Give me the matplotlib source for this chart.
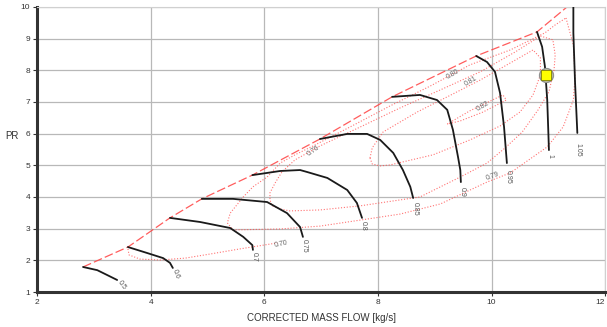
import numpy as np
import matplotlib
matplotlib.use("Agg")
import matplotlib.pyplot as plt

plt.rcParams['font.family'] = ['Liberation Sans Narrow', 'Liberation Sans', 'DejaVu Sans']

# speed lines (corrected speed)
speed_lines = {
    "0.5": ([2.81, 3.06, 3.23, 3.41], [1.79, 1.69, 1.54, 1.38]),
    "0.6": ([3.60, 3.94, 4.22, 4.34, 4.39], [2.42, 2.23, 2.07, 1.92, 1.76]),
    "0.7": ([4.34, 4.87, 5.40, 5.63, 5.79, 5.80], [3.34, 3.21, 3.02, 2.74, 2.48, 2.33]),
    "0.75": ([4.90, 5.45, 6.05, 6.40, 6.63, 6.68], [3.94, 3.94, 3.84, 3.49, 3.05, 2.74]),
    "0.8": ([5.79, 6.28, 6.63, 6.75, 7.11, 7.46, 7.63, 7.72],
            [4.69, 4.82, 4.85, 4.79, 4.60, 4.22, 3.81, 3.34]),
    "0.85": ([6.98, 7.46, 7.81, 8.04, 8.27, 8.44, 8.57, 8.62],
             [5.83, 5.99, 5.99, 5.80, 5.39, 4.85, 4.32, 3.97]),
    "0.9": ([8.25, 8.74, 9.04, 9.22, 9.32, 9.41, 9.45, 9.46],
            [7.16, 7.22, 7.06, 6.75, 6.12, 5.26, 4.85, 4.47]),
    "0.95": ([9.73, 9.92, 10.06, 10.15, 10.22, 10.27], [8.45, 8.26, 7.95, 7.28, 6.21, 5.07]),
    "1": ([10.80, 10.89, 10.94, 10.98, 11.00, 11.01], [9.21, 8.74, 8.11, 7.06, 6.02, 5.48]),
    "1.05": ([11.44, 11.44, 11.47, 11.51], [10.0, 9.18, 7.60, 6.02]),
}
speed_label_pos = {
    "0.5": (3.50, 1.22, -55), "0.6": (4.45, 1.58, -70), "0.7": (5.82, 2.10, -90),
    "0.75": (6.70, 2.45, -90), "0.8": (7.74, 3.10, -90), "0.85": (8.66, 3.62, -90),
    "0.9": (9.48, 4.15, -90), "0.95": (10.30, 4.62, -90), "1": (11.02, 5.30, -90),
    "1.05": (11.52, 5.50, -90),
}

surge_x = [2.81, 3.60, 4.34, 4.90, 5.79, 6.98, 8.25, 9.73, 10.80, 11.33]
surge_y = [1.79, 2.42, 3.34, 3.94, 4.69, 5.83, 7.16, 8.45, 9.21, 10.0]

# efficiency contours
eff_lines = [
    ([3.60, 3.62, 3.81, 4.17, 4.61, 5.05, 5.57, 6.23],
     [2.36, 2.17, 2.04, 2.01, 2.07, 2.20, 2.36, 2.55]),
    ([11.31, 11.44, 11.47, 11.44, 11.26, 10.98, 10.33, 9.92, 9.10, 8.39, 7.69, 6.98, 6.28, 5.45,
      5.35, 5.40, 5.63, 5.80, 6.05, 6.28, 6.54, 6.86, 7.51, 8.21, 8.92, 9.62, 10.33, 10.94, 11.12, 11.31],
     [9.65, 8.80, 7.79, 7.06, 6.21, 5.58, 4.76, 4.47, 3.78, 3.46, 3.27, 3.08, 2.99, 2.96,
      3.18, 3.49, 4.00, 4.32, 4.63, 5.07, 5.33, 5.61, 6.21, 6.87, 7.50, 8.17, 8.64, 9.18, 9.43, 9.65]),
    ([10.86, 11.08, 11.12, 11.10, 11.01, 10.82, 10.54, 10.24, 9.92, 9.45, 8.74, 7.69, 6.98, 6.45, 6.28,
      6.14, 6.10, 6.10, 6.19, 6.31, 6.54, 6.98, 7.69, 8.39, 9.10, 9.80, 10.42, 10.86],
     [9.08, 8.96, 8.48, 8.01, 7.32, 6.75, 6.05, 5.55, 5.07, 4.63, 4.00, 3.72, 3.59, 3.56, 3.62,
      3.72, 3.90, 4.13, 4.44, 4.79, 5.17, 5.61, 6.21, 6.81, 7.38, 7.95, 8.58, 9.08]),
    ([7.86, 7.90, 8.04, 8.21, 8.97, 9.62, 10.15, 10.50, 10.73, 10.86, 10.86, 10.73, 10.33, 9.80,
      9.22, 8.69, 8.09, 7.90, 7.86],
     [5.23, 5.04, 4.98, 5.01, 5.33, 5.80, 6.24, 6.68, 7.22, 7.85, 8.39, 8.64, 8.23, 7.69,
      7.16, 6.68, 6.05, 5.55, 5.23]),
    ([9.22, 9.62, 10.20, 10.26, 9.85, 9.45, 9.22], [6.30, 6.72, 7.22, 7.06, 6.68, 6.40, 6.30]),
]
eff_labels = [("0.70", 6.30, 2.52, 12), ("0.76", 6.86, 5.45, 35), ("0.80", 9.32, 7.88, 30),
              ("0.81", 9.64, 7.64, 30), ("0.82", 9.85, 6.86, 30), ("0.79", 10.02, 4.66, 20)]

op_point = (10.96, 7.85)

fig = plt.figure(figsize=(6.07, 3.27), dpi=100)
ax = fig.add_axes([0.061, 0.107, 0.936, 0.872])

ax.plot(surge_x, surge_y, color='#ff4040', lw=0.9, dashes=(7, 2.5), alpha=0.85, zorder=2)
for ex, ey in eff_lines:
    ax.plot(ex, ey, color='#ff5050', lw=0.8, ls=(0, (1, 1.6)), alpha=0.8, zorder=2)
for txt, lx, ly, rot in eff_labels:
    ax.text(lx, ly, txt, fontsize=5, color='#666666', rotation=rot, ha='center', va='center', zorder=4)

for name, (sx, sy) in speed_lines.items():
    ax.plot(sx, sy, color='#1a1a1a', lw=1.3, zorder=3, solid_capstyle='round', solid_joinstyle='round')
    lx, ly, rot = speed_label_pos[name]
    ax.text(lx, ly, name, fontsize=5, color='#555555', rotation=rot, ha='center', va='center', zorder=4)

ax.plot(*op_point, marker='o', ms=10, mfc='#c8c8a0', mec='#909090', zorder=5)
ax.plot(*op_point, marker='s', ms=6.5, mfc='#ffff00', mec='#808000', mew=0.6, zorder=6)

ax.set_xlim(2, 12)
ax.set_ylim(1, 10)
ax.set_xticks([2, 4, 6, 8, 10, 12])
ax.set_yticks(range(1, 11))
ax.grid(True, color='#b8b8b8', lw=0.9)
ax.set_axisbelow(True)
ax.tick_params(labelsize=6, length=3, width=0.8, colors='#333333', pad=2)
ax.get_xticklabels()[-1].set_horizontalalignment('right')
for s in ['left', 'bottom']:
    ax.spines[s].set_linewidth(2.2)
    ax.spines[s].set_color('#333333')
for s in ['top', 'right']:
    ax.spines[s].set_color('#d0d0d0')
    ax.spines[s].set_linewidth(0.8)

ax.set_xlabel("CORRECTED MASS FLOW [kg/s]", fontsize=7, color='#333333', labelpad=5)
ax.set_ylabel("PR", fontsize=7, color='#333333', rotation=0, labelpad=6)
ax.yaxis.set_label_coords(-0.045, 0.53)

fig.savefig("out.png", dpi=100)
